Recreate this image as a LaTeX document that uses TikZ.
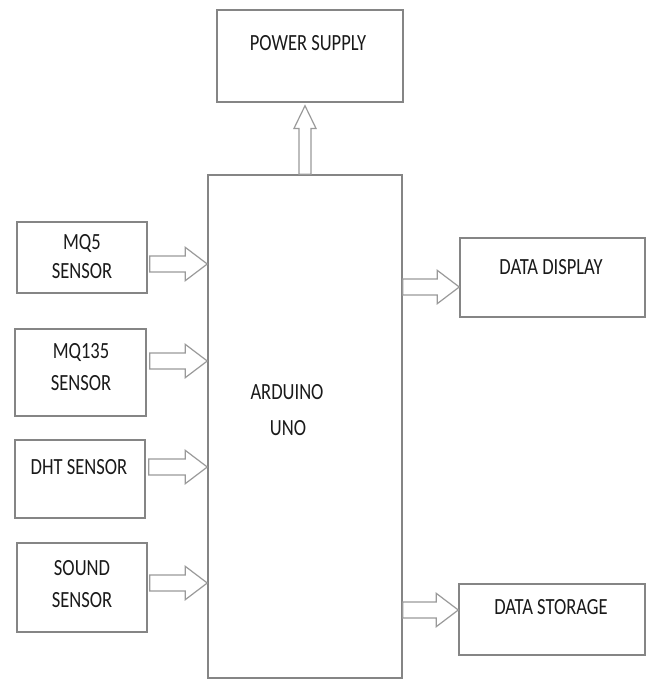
\documentclass[tikz,border=0pt]{standalone}
\usepackage{fontspec}
\setmainfont{Carlito}
\usetikzlibrary{calc}
\definecolor{boxline}{HTML}{858585}
\definecolor{arrline}{HTML}{9A9A9A}
\definecolor{txt}{HTML}{1A1A1A}
\tikzset{
  box/.style={draw=boxline, line width=1.1pt, fill=white, inner sep=0pt},
  lbl/.style={text=txt, font=\fontsize{13.9}{22.5}\selectfont, align=center, inner sep=0pt},
  blk/.style={draw=arrline, line width=0.9pt, fill=white, line join=miter},
}
\newcommand\tl[1]{\scalebox{1}[1.25]{#1}}
% horizontal block arrow: from #1 to tip #2
\newcommand\rarr[2]{\draw[blk] let \p1=(#1), \p2=(#2) in
  (\x1,\y1+6pt) -- (\x2-16.5pt,\y1+6pt) -- (\x2-16.5pt,\y1+12.5pt) -- (\x2,\y1)
  -- (\x2-16.5pt,\y1-12.5pt) -- (\x2-16.5pt,\y1-6pt) -- (\x1,\y1-6pt) -- cycle;}
% vertical block arrow upward: from #1 to tip #2
\newcommand\uarr[2]{\draw[blk] let \p1=(#1), \p2=(#2) in
  (\x1-4.5pt,\y1) -- (\x1-4.5pt,\y2-17pt) -- (\x1-8.25pt,\y2-17pt) -- (\x1,\y2)
  -- (\x1+8.25pt,\y2-17pt) -- (\x1+4.5pt,\y2-17pt) -- (\x1+4.5pt,\y1) -- cycle;}
% box node from corners: name, x1, y1, x2, y2 (px)
\newcommand\bx[5]{\node[box, minimum width={(#4-#2)*0.75pt}, minimum height={(#5-#3)*0.75pt}] (#1) at ({(#2+#4)/2},{(#3+#5)/2}) {};}
\begin{document}
\begin{tikzpicture}[x=0.75pt,y=-0.75pt]
\useasboundingbox (0,0) rectangle (651,679);
\fill[white] (0,0) rectangle (651,679);
% boxes
\bx{ps}{217}{10}{403}{102}
\bx{ard}{208}{175}{402}{678}
\bx{mq5}{17}{222}{147}{293}
\bx{mq135}{15}{329}{146}{416}
\bx{dht}{15}{440}{145}{518}
\bx{snd}{17}{543}{147}{632}
\bx{dd}{460}{238}{645}{317}
\bx{ds}{459}{584}{645}{655}
% arrow levels
\coordinate (y1) at (0,264);
\coordinate (y2) at (0,361);
\coordinate (y3) at (0,467);
\coordinate (y4) at (0,583);
\coordinate (y5) at (0,287);
\coordinate (y6) at (0,610);
% labels
\node[lbl] (tps) at (308,43) {\tl{POWER SUPPLY}};
\node[lbl] (tard1) at (287,392) {\tl{ARDUINO}};
\node[lbl] (tard2) at (288,428) {\tl{UNO}};
\node[lbl] (tmq5a) at (82,244) {\tl{MQ5}};
\node[lbl] (tmq5b) at (82,271) {\tl{SENSOR}};
\node[lbl] (tmq135a) at (81,353) {\tl{MQ135}};
\node[lbl] (tmq135b) at (81,383) {\tl{SENSOR}};
\node[lbl] (tdht) at (79,467) {\tl{DHT SENSOR}};
\node[lbl] (tsnda) at (82,568) {\tl{SOUND}};
\node[lbl] (tsndb) at (82,600) {\tl{SENSOR}};
\node[lbl] (tdd) at (551,267) {\tl{DATA DISPLAY}};
\node[lbl] (tds) at (551,607) {\tl{DATA STORAGE}};
% arrows
\rarr{$(mq5.east |- y1)+(2,0)$}{ard.west |- y1}
\rarr{$(mq135.east |- y2)+(3,0)$}{ard.west |- y2}
\rarr{$(dht.east |- y3)+(3,0)$}{ard.west |- y3}
\rarr{$(snd.east |- y4)+(2,0)$}{ard.west |- y4}
\rarr{ard.east |- y5}{dd.west |- y5}
\rarr{ard.east |- y6}{ds.west |- y6}
\uarr{ard.north}{$(ps.south)+(0,3)$}
\end{tikzpicture}
\end{document}
